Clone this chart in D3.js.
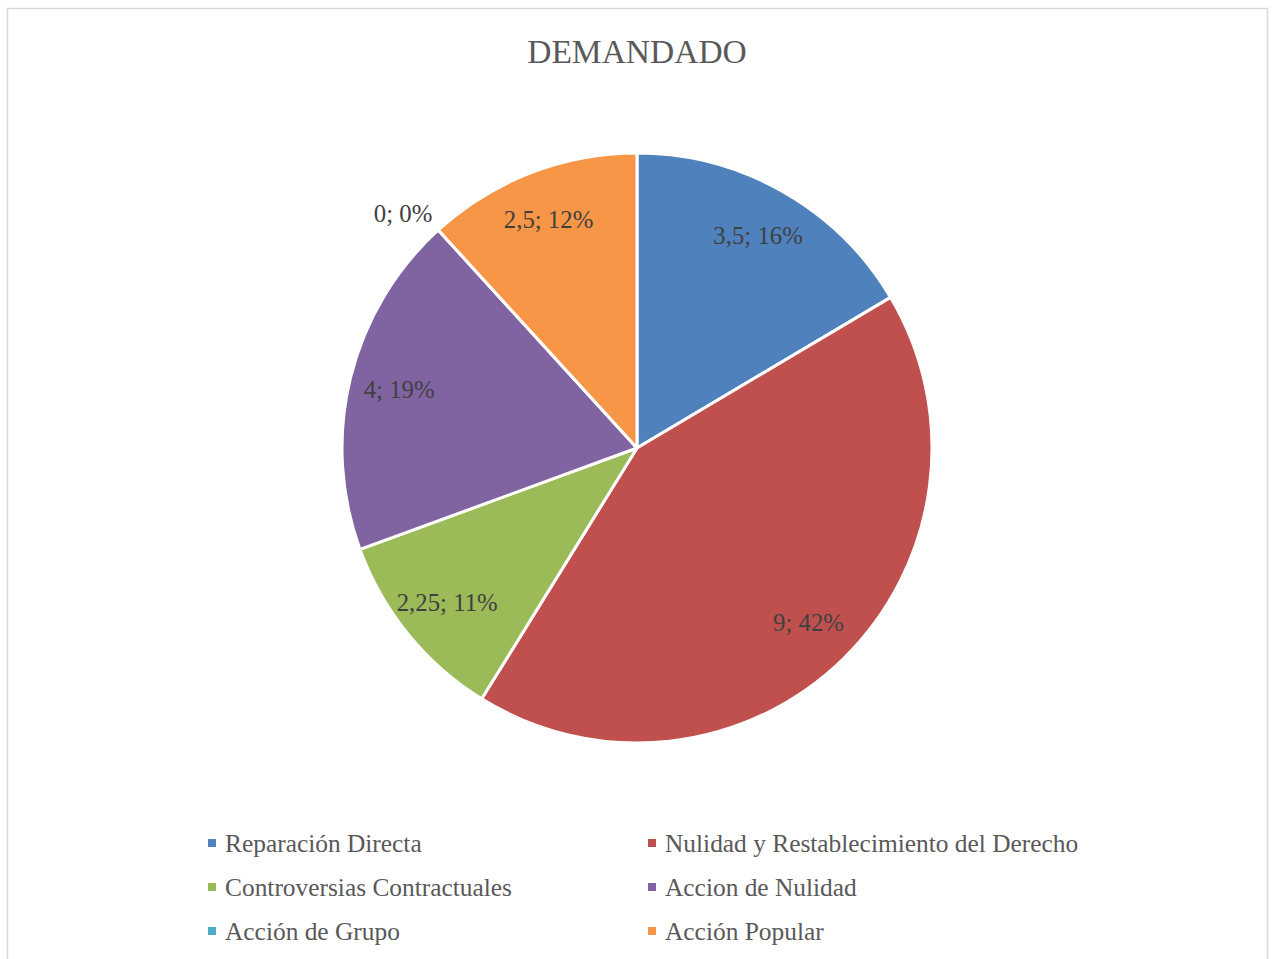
<!DOCTYPE html>
<html>
<head>
<meta charset="utf-8">
<script src="https://cdn.jsdelivr.net/npm/d3@7"></script>
<style>
  html, body { margin: 0; padding: 0; background: #fff; }
  svg text { font-family: "Liberation Serif", "DejaVu Serif", serif; }
</style>
</head>
<body>
<div id="chart"></div>
<script>
// chart data
const title = 'DEMANDADO';
const categories = [
  'Reparación Directa',
  'Nulidad y Restablecimiento del Derecho',
  'Controversias Contractuales',
  'Accion de Nulidad',
  'Acción de Grupo',
  'Acción Popular'
];
const values = [3.5, 9, 2.25, 4, 0, 2.5];
const colors = ['#4F81BD', '#C0504D', '#9BBB59', '#8064A2', '#4BACC6', '#F79646'];

const width = 1272, height = 959;
const cx = 637, cy = 448, radius = 295;

const svg = d3.select('#chart').append('svg')
  .attr('width', width)
  .attr('height', height);

// outer chart border
svg.append('rect')
  .attr('x', 7.5).attr('y', 8.5)
  .attr('width', 1260).attr('height', 970)
  .attr('fill', '#fff')
  .attr('stroke', '#d9d9d9')
  .attr('stroke-width', 1.5);

svg.append('text')
  .attr('x', cx).attr('y', 63)
  .attr('text-anchor', 'middle')
  .attr('font-size', 33.5)
  .attr('fill', '#595959')
  .text(title);

const total = d3.sum(values);
const locale = d3.formatLocale({ decimal: ',', thousands: '.', grouping: [3], currency: ['', ''] });
const fmt = locale.format('~g');

const data = categories.map((c, i) => ({ name: c, value: values[i], color: colors[i] }));

const pie = d3.pie().value(d => d.value).sort(null);
const arcs = pie(data);

const arc = d3.arc().innerRadius(0).outerRadius(radius);
const labelArc = d3.arc().innerRadius(radius * 0.83).outerRadius(radius * 0.83);
const outsideArc = d3.arc().innerRadius(radius * 1.03).outerRadius(radius * 1.03);

const g = svg.append('g').attr('transform', `translate(${cx},${cy})`);

g.selectAll('path')
  .data(arcs)
  .enter()
  .append('path')
  .attr('d', arc)
  .attr('fill', d => d.data.color)
  .attr('stroke', '#fff')
  .attr('stroke-width', 3)
  .attr('stroke-linejoin', 'round');

// data labels: "value; percent" (empty slices get theirs outside)
g.selectAll('text.lbl')
  .data(arcs)
  .enter()
  .append('text')
  .attr('class', 'lbl')
  .attr('transform', d => {
    if (d.value === 0) {
      const p = outsideArc.centroid(d);
      return `translate(${p[0]},${p[1] - 10})`;
    }
    return `translate(${labelArc.centroid(d)})`;
  })
  .attr('text-anchor', d => d.value === 0 ? 'end' : 'middle')
  .attr('dy', '0.35em')
  .attr('font-size', 24.8)
  .attr('fill', '#404040')
  .text(d => `${fmt(d.data.value)}; ${Math.round(d.data.value / total * 100)}%`);

// legend, two columns
const colX = [208, 648];
const rowY = d3.scaleLinear().domain([0, 1]).range([843, 887]);

const legend = svg.append('g')
  .selectAll('g')
  .data(data)
  .enter()
  .append('g')
  .attr('transform', (d, i) => `translate(${colX[i % 2]},${rowY(Math.floor(i / 2))})`);

legend.append('rect')
  .attr('x', 0).attr('y', -4)
  .attr('width', 8).attr('height', 8)
  .attr('fill', d => d.color);

legend.append('text')
  .attr('x', 17)
  .attr('dy', '0.35em')
  .attr('font-size', 25.4)
  .attr('fill', '#595959')
  .text(d => d.name);
</script>
</body>
</html>
